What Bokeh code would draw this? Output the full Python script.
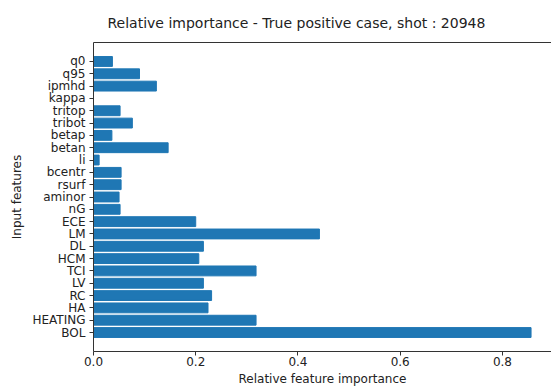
from bokeh.plotting import figure
from bokeh.models import Range1d, FixedTicker, LinearAxis, PrintfTickFormatter
from bokeh.embed import file_html
from bokeh.resources import INLINE

features = ["BOL", "HEATING", "HA", "RC", "LV", "TCI", "HCM", "DL", "LM", "ECE",
            "nG", "aminor", "rsurf", "bcentr", "li", "betan", "betap", "tribot",
            "tritop", "kappa", "ipmhd", "q95", "q0"]
importance = [0.856, 0.318, 0.224, 0.231, 0.215, 0.318, 0.206, 0.215, 0.442, 0.200,
              0.052, 0.050, 0.054, 0.054, 0.011, 0.146, 0.036, 0.076,
              0.052, 0.0, 0.123, 0.090, 0.037]
x_ticks = [0.0, 0.2, 0.4, 0.6, 0.8]

positions = list(range(len(features)))
font = "DejaVu Sans"
line_col = "#333333"
text_col = "#222222"

p = figure(width=551, height=388, output_backend="svg", toolbar_location=None,
           x_range=Range1d(0, 0.896), y_range=Range1d(-1.54, len(features) - 1 + 1.54),
           title="Relative importance - True positive case, shot : 20948",
           min_border_left=93, min_border_right=0, min_border_top=42,
           min_border_bottom=36)

p.hbar(y=positions, right=importance, left=0, height=0.8, color="#1f77b4")

p.grid.visible = False
p.outline_line_color = None

top = LinearAxis(ticker=FixedTicker(ticks=[]), major_label_text_alpha=0,
                 major_tick_line_color=None, minor_tick_line_color=None,
                 axis_line_color=line_col, major_label_text_font_size="1px",
                 major_label_standoff=0, major_tick_out=0, major_tick_in=0)
p.add_layout(top, "above")

bottom = p.below[0]
left = p.left[0]

p.title.text_font = font
p.title.text_font_size = "14px"
p.title.text_font_style = "normal"
p.title.text_color = text_col
p.title.align = "left"
p.title.offset = 14
p.title.standoff = 24

bottom.ticker = FixedTicker(ticks=x_ticks)
bottom.formatter = PrintfTickFormatter(format="%.1f")
left.ticker = FixedTicker(ticks=positions)
left.major_label_overrides = {i: f for i, f in enumerate(features)}
bottom.axis_label = "Relative feature importance"
left.axis_label = "Input features"

for ax in (bottom, left):
    ax.major_label_text_font = font
    ax.major_label_text_font_size = "12px"
    ax.major_label_text_color = text_col
    ax.axis_label_text_font = font
    ax.axis_label_text_font_size = "12px"
    ax.axis_label_text_font_style = "normal"
    ax.axis_label_text_color = text_col
    ax.major_tick_in = 0
    ax.major_tick_out = 4
    ax.minor_tick_line_color = None
    ax.axis_line_color = line_col
    ax.major_tick_line_color = line_col

bottom.major_label_standoff = 1
bottom.axis_label_standoff = 3
left.major_label_standoff = 4
left.axis_label_standoff = 5

open("out.html", "w").write(file_html(p, INLINE))
